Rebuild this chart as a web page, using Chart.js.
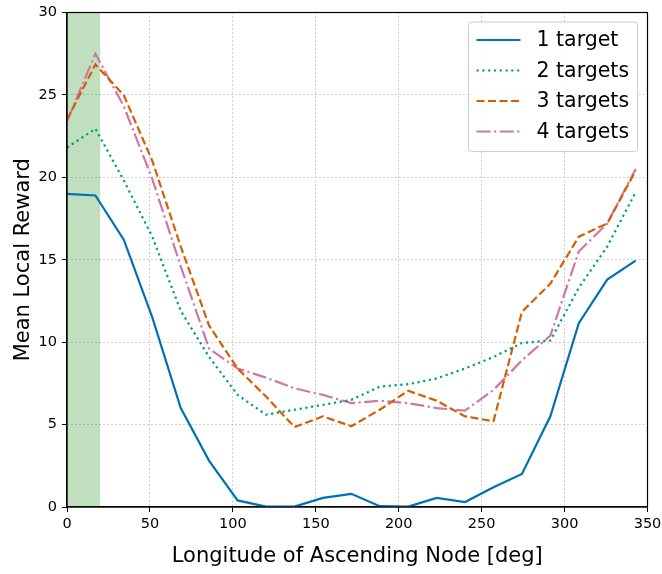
<!DOCTYPE html>
<html><head><meta charset="utf-8">
<script src="https://cdn.jsdelivr.net/npm/chart.js@4"></script>
<style>html,body{margin:0;padding:0;background:#fff}canvas{display:block}</style>
</head><body>
<canvas id="c" width="662" height="574"></canvas>
<script>
const longitudes = [0, 17.14, 34.29, 51.43, 68.57, 85.71, 102.86, 120, 137.14, 154.29, 171.43, 188.57, 205.71, 222.86, 240, 257.14, 274.29, 291.43, 308.57, 325.71, 342.86];
const oneTarget   = [19.0, 18.9, 16.2, 11.5, 6.0, 2.8, 0.4, 0.02, 0.02, 0.55, 0.8, 0.05, 0.02, 0.55, 0.3, 1.2, 2.0, 5.5, 11.15, 13.8, 14.95];
const twoTargets  = [21.8, 22.95, 19.8, 16.4, 11.9, 9.1, 6.8, 5.6, 5.9, 6.2, 6.5, 7.3, 7.45, 7.8, 8.4, 9.1, 9.95, 10.1, 13.3, 15.8, 19.1];
const threeTargets= [23.5, 26.85, 24.97, 21.0, 15.8, 11.0, 8.4, 6.7, 4.85, 5.5, 4.9, 5.9, 7.05, 6.45, 5.5, 5.2, 11.84, 13.55, 16.4, 17.2, 20.4];
const fourTargets = [23.4, 27.5, 24.3, 19.9, 14.6, 9.6, 8.4, 7.85, 7.2, 6.8, 6.3, 6.45, 6.3, 6.0, 5.85, 7.1, 8.9, 10.4, 15.5, 17.2, 20.5];
const seriesLabels = ['1 target', '2 targets', '3 targets', '4 targets'];
const xTicks = [0, 50, 100, 150, 200, 250, 300, 350];
const yTicks = [0, 5, 10, 15, 20, 25, 30];
const shadedSpan = [0, 20];

const FONT = "'DejaVu Sans', sans-serif";
const pts = arr => arr.map((v, i) => ({x: longitudes[i], y: v}));

const spanPlugin = {
  id: 'span',
  beforeDatasetsDraw(chart) {
    const {ctx, chartArea: a, scales: {x}} = chart;
    const x0 = x.getPixelForValue(shadedSpan[0]), x1 = x.getPixelForValue(shadedSpan[1]);
    ctx.save();
    ctx.fillStyle = 'rgba(0,128,0,0.25)';
    ctx.fillRect(x0, a.top, x1 - x0, a.bottom - a.top);
    ctx.restore();
  }
};

const framePlugin = {
  id: 'frame',
  afterDatasetsDraw(chart) {
    const {ctx, chartArea: a} = chart;
    ctx.save();
    ctx.strokeStyle = '#000';
    ctx.lineWidth = 1.2;
    ctx.strokeRect(a.left, a.top, a.right - a.left, a.bottom - a.top);
    ctx.restore();
  }
};

const legendPlugin = {
  id: 'innerLegend',
  afterDraw(chart) {
    const {ctx, chartArea: a} = chart;
    const w = 169, h = 129.5;
    const bx = a.right - 10 - w, by = a.top + 9.5;
    ctx.save();
    ctx.fillStyle = 'rgba(255,255,255,0.8)';
    ctx.strokeStyle = '#cccccc';
    ctx.lineWidth = 1;
    ctx.beginPath();
    ctx.roundRect(bx, by, w, h, 3);
    ctx.fill();
    ctx.stroke();
    ctx.font = '20.5px ' + FONT;
    ctx.textBaseline = 'middle';
    ctx.fillStyle = '#000';
    chart.data.datasets.forEach((ds, i) => {
      const cy = by + 18 + i * 30.5;
      ctx.strokeStyle = ds.borderColor;
      ctx.lineWidth = ds.borderWidth;
      ctx.setLineDash(ds.borderDash || []);
      ctx.beginPath();
      ctx.moveTo(bx + 8, cy);
      ctx.lineTo(bx + 52, cy);
      ctx.stroke();
      ctx.setLineDash([]);
      ctx.fillText(ds.label, bx + 68, cy + 1);
    });
    ctx.restore();
  }
};

const common = {fill: false, pointRadius: 0, tension: 0, borderWidth: 2.2};
new Chart(document.getElementById('c'), {
  type: 'line',
  data: {
    datasets: [
      {...common, label: seriesLabels[0], data: pts(oneTarget), borderColor: '#0072B2'},
      {...common, label: seriesLabels[1], data: pts(twoTargets), borderColor: '#009E73', borderDash: [2.2, 3.6]},
      {...common, label: seriesLabels[2], data: pts(threeTargets), borderColor: '#D55E00', borderDash: [8, 3.5]},
      {...common, label: seriesLabels[3], data: pts(fourTargets), borderColor: '#CC79A7', borderDash: [14, 3.5, 2.2, 3.5]}
    ]
  },
  options: {
    responsive: false,
    animation: false,
    layout: {padding: {top: 12.5, right: 14.5, left: 0, bottom: 0}},
    plugins: {legend: {display: false}, tooltip: {enabled: false}},
    scales: {
      x: {
        type: 'linear', min: 0, max: 350,
        afterFit(s) { s.height = 67; s.paddingLeft = 0; s.paddingRight = 0; },
        afterBuildTicks(s) { s.ticks = xTicks.map(v => ({value: v})); },
        ticks: {color: '#000', font: {family: FONT, size: 14.5}, padding: 4, maxRotation: 0},
        grid: {color: '#b0b0b0', lineWidth: 0.8, tickLength: 5, tickColor: '#000', tickWidth: 1, tickBorderDash: []},
        border: {display: true, color: '#000', width: 1.2, dash: [1.5, 2.5]},
        title: {display: true, text: 'Longitude of Ascending Node [deg]', color: '#000', font: {family: FONT, size: 21}, padding: {top: 0, bottom: 5}}
      },
      y: {
        type: 'linear', min: 0, max: 30,
        afterFit(s) { s.width = 67; s.paddingTop = 0; s.paddingBottom = 0; },
        afterBuildTicks(s) { s.ticks = yTicks.map(v => ({value: v})); },
        ticks: {color: '#000', font: {family: FONT, size: 14.5}, padding: 5},
        grid: {color: '#b0b0b0', lineWidth: 0.8, tickLength: 5, tickColor: '#000', tickWidth: 1, tickBorderDash: []},
        border: {display: true, color: '#000', width: 1.2, dash: [1.5, 2.5]},
        title: {display: true, text: 'Mean Local Reward', color: '#000', font: {family: FONT, size: 21}, padding: {top: 10.5, bottom: 0}}
      }
    }
  },
  plugins: [spanPlugin, framePlugin, legendPlugin]
});
</script>
</body></html>
